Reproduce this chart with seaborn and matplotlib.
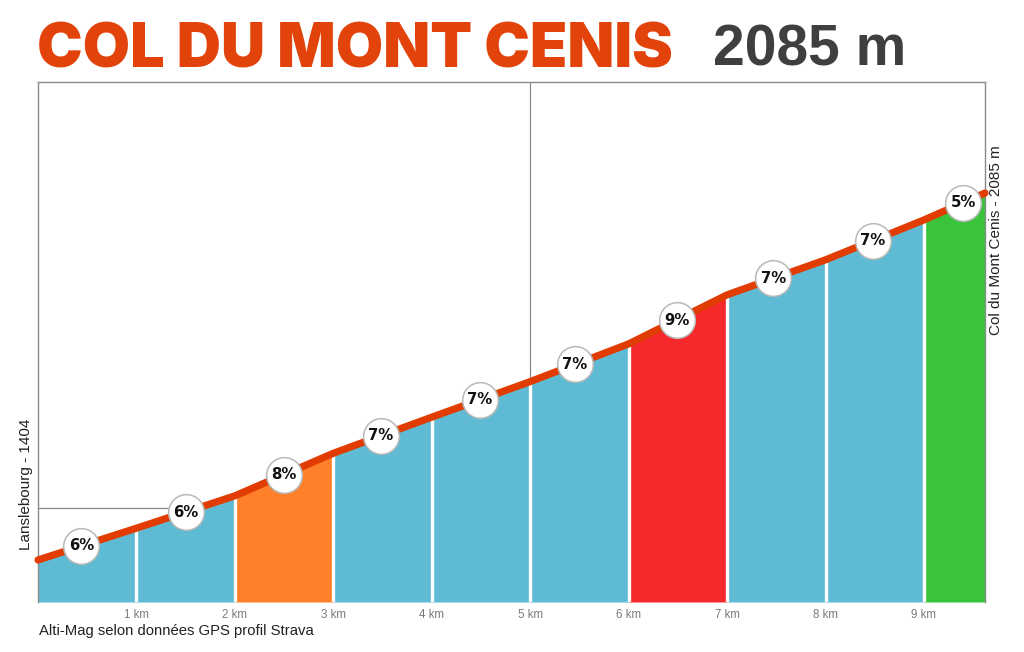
import matplotlib
matplotlib.use("Agg")
import matplotlib.pyplot as plt
import seaborn as sns
import pandas as pd

# ---- data ----
km = [0, 1, 2, 3, 4, 5, 6, 7, 8, 9, 9.62]
elevation = [1404, 1463, 1523, 1602, 1669, 1735, 1805, 1896, 1961, 2035, 2085]
grades = ["6%", "6%", "8%", "7%", "7%", "7%", "9%", "7%", "7%", "5%"]
label_km = [0.44, 1.5, 2.5, 3.48, 4.49, 5.455, 6.487, 7.47, 8.48, 9.4]
seg_colors = ["#5EBBD3", "#5EBBD3", "#FF7F2A", "#5EBBD3", "#5EBBD3", "#5EBBD3",
              "#F5292B", "#5EBBD3", "#5EBBD3", "#39C43B"]
tick_km = [1, 2, 3, 4, 5, 6, 7, 8, 9]
tick_labels = ["1 km", "2 km", "3 km", "4 km", "5 km", "6 km", "7 km", "8 km", "9 km"]
title_main = "COL DU MONT CENIS"
title_alt = "2085 m"
start_label = "Lanslebourg - 1404"
end_label = "Col du Mont Cenis - 2085 m"
caption = "Alti-Mag selon données GPS profil Strava"

sns.set_style("white")
plt.rcParams["font.family"] = ["Liberation Sans", "DejaVu Sans"]

W, H = 1024, 652
fig = plt.figure(figsize=(W / 100, H / 100), dpi=100)
ax = fig.add_axes([38 / W, (H - 602) / H, (985 - 38) / W, (602 - 82) / H])

ymin, ymax = 1326, 2291
ax.set_xlim(0, km[-1])
ax.set_ylim(ymin, ymax)

# reference gridlines (behind fill)
ax.axhline(1500, color="#8a8a8a", lw=0.9, zorder=0)
ax.axvline(5, color="#8a8a8a", lw=0.9, zorder=0)

# filled segments
for i in range(len(seg_colors)):
    ax.fill_between([km[i], km[i + 1]], [elevation[i], elevation[i + 1]], ymin,
                    color=seg_colors[i], lw=0, zorder=1)

# white separators
ax.vlines(km[1:-1], ymin, elevation[1:-1], colors="white", lw=2.4, zorder=2)

# profile line
df = pd.DataFrame({"km": km, "elev": elevation})
sns.lineplot(data=df, x="km", y="elev", ax=ax, color="#E13D02", lw=5.2,
             zorder=3, solid_capstyle="round", clip_on=False)

# grade markers, placed on the profile
prof = pd.Series(elevation, index=km, dtype=float)
mid_y = [float(prof.reindex(sorted(set(km) | {x})).interpolate(method="index").loc[x])
         for x in label_km]
mdf = pd.DataFrame({"x": label_km, "y": mid_y})
sns.scatterplot(data=mdf, x="x", y="y", ax=ax, s=660, color="white",
                edgecolor="#b8b8b8", linewidth=1.1, zorder=4, clip_on=False)
for x, y, g in zip(label_km, mid_y, grades):
    ax.text(x, y, g, ha="center", va="center", fontsize=10.7, fontweight="bold",
            family="DejaVu Sans", color="#111111", zorder=5)

# axes styling
ax.set_xticks(tick_km)
ax.set_xticklabels(tick_labels, color="#7a7a7a", fontsize=8.3)
ax.set_yticks([])
ax.tick_params(axis="x", length=0, pad=5)
ax.set_xlabel("")
ax.set_ylabel("")
for s in ["left", "top", "right"]:
    ax.spines[s].set_color("#8a8a8a")
    ax.spines[s].set_linewidth(1.0)
ax.spines["bottom"].set_visible(False)

# texts
fig.text(37 / W, (H - 67) / H, title_main, color="#E2430A", fontsize=44,
         fontweight="black", family="Inter", ha="left", va="baseline")
fig.text(713 / W, (H - 66) / H, title_alt, color="#3f3f3f", fontsize=41,
         fontweight="bold", ha="left", va="baseline")
fig.text(26 / W, (H - 550) / H, start_label, rotation=90, fontsize=11,
         color="#222222", ha="center", va="bottom")
fig.text(996 / W, (H - 335) / H, end_label, rotation=90, fontsize=11,
         color="#222222", ha="center", va="bottom")
fig.text(39 / W, (H - 631) / H, caption, fontsize=10.7, color="#222222",
         ha="left", va="center")

fig.savefig("out.png", dpi=100)
